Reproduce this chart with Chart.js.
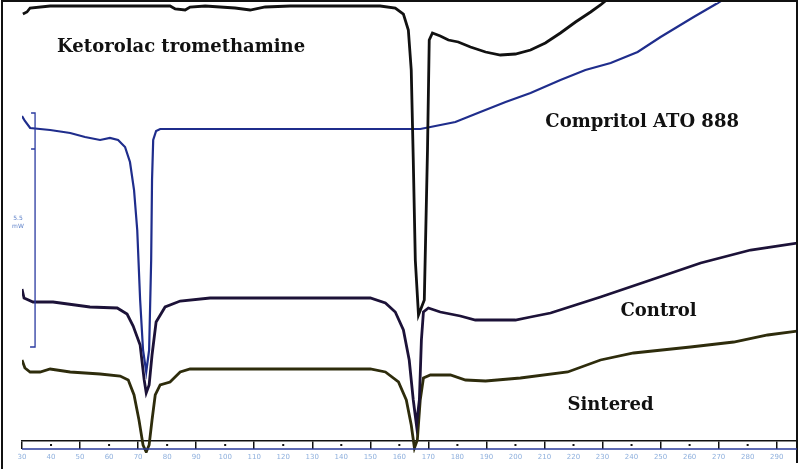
<!DOCTYPE html>
<html>
<head>
<meta charset="utf-8">
<script src="https://cdn.jsdelivr.net/npm/chart.js@4"></script>
<style>
  body { margin: 0; background: #fff; }
  #wrap { width: 799px; height: 469px; }
</style>
</head>
<body>
<div id="wrap"><canvas id="dsc"></canvas></div>
<script>
// DSC thermograms, temperature (deg C) vs heat flow (arbitrary offset units)
const ketoT = [30.3, 31.7, 32.8, 39.7, 81.0, 82.8, 86.2, 87.9, 93.1, 103.4, 108.6, 113.8, 122.4, 153.4, 158.6, 161.4, 163.1, 164.1, 164.8, 165.5, 166.6, 168.6, 169.7, 170.3, 171.4, 174.1, 176.9, 180.3, 184.5, 189.7, 194.8, 200.0, 205.2, 210.3, 215.5, 220.7, 225.9, 229.3, 233.4];
const ketoY = [427, 429, 433, 435, 435, 432, 431, 434, 435, 433, 431, 434, 435, 435, 433, 427, 411, 371, 281, 181, 126, 141, 291, 401, 408, 405, 401, 399, 394, 389, 386, 387, 391, 398, 408, 419, 429, 436, 446];

const compT = [30.0, 31.0, 32.8, 39.7, 46.6, 51.7, 56.9, 60.3, 63.1, 65.5, 67.2, 68.6, 69.7, 70.7, 71.7, 72.8, 73.8, 74.5, 74.8, 75.2, 76.2, 77.6, 125.9, 167.2, 170.7, 179.3, 187.9, 196.6, 205.2, 215.5, 224.1, 232.8, 242.1, 250.0, 261.4, 269.7, 274.1];
const compY = [325, 320, 313, 311, 308, 304, 301, 303, 301, 294, 279, 251, 211, 141, 91, 69, 91, 181, 261, 301, 310, 312, 312, 312, 314, 319, 329, 339, 348, 361, 371, 378, 389, 404, 424, 438, 446];

const ctrlT = [30.0, 30.7, 33.8, 40.7, 53.4, 62.8, 66.2, 68.3, 70.7, 72.1, 72.8, 73.8, 74.8, 76.2, 79.3, 84.5, 94.8, 150.0, 155.2, 158.6, 161.4, 163.4, 164.8, 165.9, 166.9, 167.6, 168.3, 170.0, 174.1, 181.0, 186.2, 200.0, 205.2, 212.1, 229.3, 246.6, 263.8, 281.0, 297.2];
const ctrlY = [152, 143, 139, 139, 134, 133, 127, 115, 96, 61, 48, 56, 86, 119, 134, 140, 143, 143, 138, 129, 111, 81, 41, 16, 41, 101, 129, 133, 129, 125, 121, 121, 124, 128, 144, 161, 178, 191, 198];

const sintT = [30.0, 31.0, 32.8, 36.2, 39.7, 46.6, 56.9, 63.8, 66.6, 68.6, 70.3, 71.7, 72.8, 73.8, 74.8, 75.9, 77.6, 81.0, 84.5, 87.9, 150.0, 155.2, 159.7, 162.4, 164.1, 165.2, 166.2, 167.2, 168.3, 170.7, 177.6, 182.8, 189.7, 201.7, 218.0, 229.3, 240.7, 260.3, 275.2, 286.9, 297.2];
const sintY = [81, 73, 69, 69, 72, 69, 67, 65, 61, 46, 21, -4, -11, -4, 21, 46, 56, 59, 69, 72, 72, 69, 59, 41, 16, -7, 1, 41, 63, 66, 66, 61, 60, 63, 69, 81, 88, 94, 99, 106, 110];

const seriesNames = ['Ketorolac tromethamine', 'Compritol ATO 888', 'Control', 'Sintered'];
const seriesColors = ['#111111', '#1f2d8c', '#1c1238', '#2e2c0c'];

// curve captions: [text, temperature, offset]
const captions = [
  ['Ketorolac tromethamine', 42.1, 394],
  ['Compritol ATO 888', 210.3, 319],
  ['Control', 236.2, 130],
  ['Sintered', 217.9, 36]
];

// heat-flow scale bar at the left
const scaleBar = { t: 34.5, from: 94, to: 328, tickAt: 292, text: ['5.5', 'mW'] };

function pts(xs, ys) {
  return xs.map((x, i) => ({ x: x, y: ys[i] }));
}

const datasets = [
  [ketoT, ketoY, 2.8],
  [compT, compY, 2.2],
  [ctrlT, ctrlY, 2.8],
  [sintT, sintY, 2.8]
].map((s, i) => ({
  label: seriesNames[i],
  data: pts(s[0], s[1]),
  borderColor: seriesColors[i],
  borderWidth: s[2],
  pointRadius: 0,
  tension: 0,
  clip: { left: 0, top: 0, right: 0, bottom: 12 }
}));

const decorations = {
  id: 'decorations',
  afterDraw(chart) {
    const c = chart.ctx;
    const xs = chart.scales.x, ys = chart.scales.y;
    const area = chart.chartArea;
    c.save();

    // frame
    c.strokeStyle = '#111';
    c.lineWidth = 2;
    c.beginPath();
    c.moveTo(2, chart.height);
    c.lineTo(2, 1);
    c.lineTo(797, 1);
    c.lineTo(797, chart.height - 6);
    c.stroke();

    // axis box bottom line and mid dots
    c.strokeStyle = '#2a3a9a';
    c.lineWidth = 1.5;
    c.beginPath();
    c.moveTo(area.left, area.bottom + 8);
    c.lineTo(area.right, area.bottom + 8);
    c.stroke();
    c.fillStyle = '#111';
    xs.ticks.forEach(t => {
      if ((t.value - 30) % 20 === 10) {
        const px = xs.getPixelForValue(t.value);
        c.fillRect(px - 1, area.bottom + 3, 2, 2);
      }
    });

    // scale bar
    const bx = xs.getPixelForValue(scaleBar.t);
    const y1 = ys.getPixelForValue(scaleBar.to), y2 = ys.getPixelForValue(scaleBar.from);
    const yt = ys.getPixelForValue(scaleBar.tickAt);
    c.strokeStyle = '#2a3aa0';
    c.lineWidth = 1.3;
    c.beginPath();
    c.moveTo(bx - 4, y1); c.lineTo(bx, y1); c.lineTo(bx, y2); c.lineTo(bx - 5, y2);
    c.moveTo(bx - 4, yt); c.lineTo(bx, yt);
    c.stroke();
    c.fillStyle = '#5b7fc8';
    c.font = '6px "DejaVu Sans"';
    c.textAlign = 'center';
    c.fillText(scaleBar.text[0], 18, (y1 + y2) / 2 - 10);
    c.fillText(scaleBar.text[1], 18, (y1 + y2) / 2 - 2);

    // captions
    c.fillStyle = '#111';
    c.textAlign = 'left';
    c.textBaseline = 'middle';
    c.font = 'bold 18px "DejaVu Serif"';
    captions.forEach(cap => {
      c.fillText(cap[0], xs.getPixelForValue(cap[1]), ys.getPixelForValue(cap[2]));
    });
    c.restore();
  }
};

new Chart(document.getElementById('dsc'), {
  type: 'line',
  data: { datasets: datasets },
  options: {
    responsive: true,
    maintainAspectRatio: false,
    animation: false,
    layout: { padding: { left: 22, right: 2, top: 2, bottom: 0 } },
    plugins: { legend: { display: false }, tooltip: { enabled: false } },
    scales: {
      x: {
        type: 'linear',
        min: 30,
        max: 297,
        afterFit: s => { s.height = 28; s.paddingRight = 0; },
        border: { display: true, color: '#111', width: 1.5 },
        grid: {
          drawOnChartArea: false,
          tickLength: 8,
          lineWidth: 1.5,
          color: ctx => (ctx.tick && (ctx.tick.value - 30) % 20 === 0) ? '#111' : 'rgba(0,0,0,0)'
        },
        ticks: {
          stepSize: 10,
          includeBounds: false,
          autoSkip: false,
          maxRotation: 0,
          padding: 4,
          color: '#8fb0dd',
          font: { size: 7, family: 'DejaVu Sans' }
        }
      },
      y: { display: false, min: 0, max: 439 }
    }
  },
  plugins: [decorations]
});
</script>
</body>
</html>
